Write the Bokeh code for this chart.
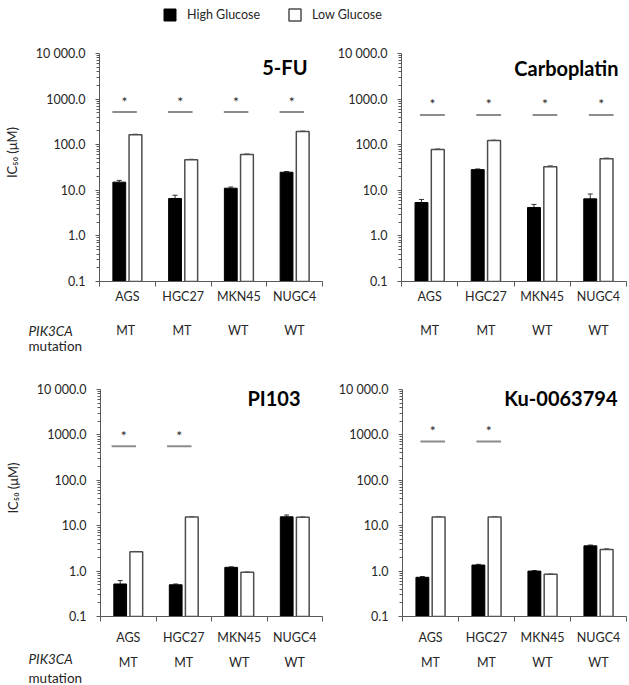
from bokeh.plotting import figure
from bokeh.models import (ColumnDataSource, Range1d, FixedTicker, Label,
                          Legend, LegendItem, Whisker, TeeHead)
from bokeh.layouts import column, row
from bokeh.embed import file_html
from bokeh.resources import INLINE
from bokeh.core.properties import value

# ---------------- data ----------------
cell_lines = ["AGS", "HGC27", "MKN45", "NUGC4"]
pik3ca_status = ["MT", "MT", "WT", "WT"]
series_names = ["High Glucose", "Low Glucose"]

drug_5fu = "5-FU"
high_5fu = [15.1, 6.6, 11.1, 24.9]
high_5fu_err = [1.4, 1.2, 0.7, 0.9]
low_5fu = [165, 46.5, 61, 195]
low_5fu_err = [5, 1.5, 2, 5]
sig_5fu = [True, True, True, True]

drug_carbo = "Carboplatin"
high_carbo = [5.4, 28.4, 4.2, 6.5]
high_carbo_err = [0.9, 1.0, 0.7, 1.8]
low_carbo = [78, 123, 33, 49]
low_carbo_err = [3, 3, 1.5, 2]
sig_carbo = [True, True, True, True]

drug_pi103 = "PI103"
high_pi103 = [0.52, 0.50, 1.21, 15.7]
high_pi103_err = [0.1, 0.02, 0.03, 1.5]
low_pi103 = [2.66, 15.5, 0.94, 15.3]
low_pi103_err = [0.05, 0.3, 0.02, 0.4]
sig_pi103 = [True, True, False, False]

drug_ku = "Ku-0063794"
high_ku = [0.73, 1.36, 1.0, 3.6]
high_ku_err = [0.03, 0.05, 0.03, 0.15]
low_ku = [15.5, 15.5, 0.85, 3.0]
low_ku_err = [0.3, 0.3, 0.02, 0.12]
sig_ku = [True, True, False, False]

y_major = [0.1, 1, 10, 100, 1000, 10000]
y_labels = ["0.1", "1.0", "10.0", "100.0", "1000.0", "10 000.0"]
y_title = "IC\u2085\u2080 (\u03bcM)"
mut_title = ["PIK3CA", "mutation"]

# ---------------- styles ----------------
FONT = "Lato"
TXT = "#262626"
AX = "#595959"
FRAME_H = 228
BAR_W = 0.23
OFF = 0.145
NCAT = len(cell_lines)
YLAB_PAD = "\u00a0" * 9   # lifts the rotated axis title a little above the frame centre

y_minor = [m * 10.0 ** e for e in range(-1, 4) for m in range(2, 10)]


def make_panel(drug, high, high_err, low, low_err, sig, sig_level, sig_shift,
               bl, fw, br, bt, bb, title_dx, title_dy, show_ylabel, lab_off):
    width = bl + fw + br
    height = bt + FRAME_H + bb
    p = figure(width=width, height=height, x_range=Range1d(0, NCAT),
               y_range=Range1d(0.1, 10000), y_axis_type="log",
               output_backend="svg", toolbar_location=None,
               min_border_left=bl, min_border_right=br,
               min_border_top=bt, min_border_bottom=bb)
    p.outline_line_color = None
    p.xgrid.visible = False
    p.ygrid.visible = False

    centers = [i + 0.5 for i in range(NCAT)]
    hx = [c - OFF for c in centers]
    lx = [c + OFF for c in centers]
    src_h = ColumnDataSource(dict(x=hx, top=high, upper=[v + e for v, e in zip(high, high_err)]))
    src_l = ColumnDataSource(dict(x=lx, top=low, upper=[v + e for v, e in zip(low, low_err)]))
    p.vbar(x="x", top="top", bottom=0.1, width=BAR_W, source=src_h,
           fill_color="black", line_color="black", line_width=1)
    p.vbar(x="x", top="top", bottom=0.1, width=BAR_W, source=src_l,
           fill_color="white", line_color="#4d4d4d", line_width=1.5)
    for s, col in ((src_h, "#333333"), (src_l, "#666666")):
        p.add_layout(Whisker(source=s, base="x", upper="upper", lower="top",
                             dimension="height", line_color=col, line_width=1,
                             upper_head=TeeHead(size=5, line_color=col, line_width=1),
                             lower_head=None))

    # significance markers
    sx = [c + sig_shift for c, f in zip(centers, sig) if f]
    if sx:
        ssrc = ColumnDataSource(dict(x0=[x - 0.22 for x in sx], x1=[x + 0.22 for x in sx],
                                     x=sx, y=[sig_level] * len(sx), t=["*"] * len(sx)))
        p.segment(x0="x0", x1="x1", y0="y", y1="y", source=ssrc,
                  line_color="#8c8c8c", line_width=2)
        p.text(x="x", y="y", text="t", source=ssrc, text_align="center",
               text_baseline="middle", y_offset=-11, text_font=value(FONT),
               text_font_size="14px", text_color=TXT)

    # y axis
    ya = p.yaxis[0]
    ya.ticker = FixedTicker(ticks=y_major, minor_ticks=y_minor)
    ya.major_label_overrides = dict(zip(y_major, y_labels))
    ya.major_tick_out = 4
    ya.major_tick_in = 0
    ya.minor_tick_out = 3
    ya.minor_tick_in = 0
    ya.axis_line_color = AX
    ya.major_tick_line_color = AX
    ya.minor_tick_line_color = AX
    ya.major_label_standoff = 10
    ya.major_label_text_font = FONT
    ya.major_label_text_font_size = "12.5px"
    ya.major_label_text_color = TXT
    if show_ylabel:
        ya.axis_label = YLAB_PAD + y_title
        ya.axis_label_standoff = 13
        ya.axis_label_text_font = FONT
        ya.axis_label_text_font_style = "normal"
        ya.axis_label_text_font_size = "13px"
        ya.axis_label_text_color = TXT

    # x axis: labels at centers, tick marks at category boundaries
    xa = p.xaxis[0]
    xa.ticker = FixedTicker(ticks=centers, minor_ticks=list(range(NCAT + 1)))
    xa.major_label_overrides = dict(zip(centers, cell_lines))
    xa.major_tick_line_color = None
    xa.major_tick_out = 0
    xa.major_tick_in = 0
    xa.minor_tick_out = 5
    xa.minor_tick_in = 0
    xa.minor_tick_line_color = AX
    xa.axis_line_color = AX
    xa.major_label_standoff = lab_off
    xa.major_label_text_font = FONT
    xa.major_label_text_font_size = "12.5px"
    xa.major_label_text_color = TXT

    # panel title (inside the frame, top right)
    p.add_layout(Label(x=fw - title_dx, y=FRAME_H - title_dy,
                       x_units="screen", y_units="screen", text=drug,
                       text_font=FONT, text_font_style="bold", text_font_size="20px",
                       text_color="black", text_align="right", text_baseline="middle"))
    return p


def make_strip(bl, fw, br, h, mt_from_top, pik_from_top, mut_from_top, show_names):
    """Row under a panel with the PIK3CA status; x mapping identical to the panel above."""
    width = bl + fw + br
    ppu = fw / NCAT
    s = figure(width=width, height=h,
               x_range=Range1d(-bl / ppu, NCAT + br / ppu), y_range=Range1d(0, h),
               output_backend="svg", toolbar_location=None,
               x_axis_location=None, y_axis_location=None,
               min_border_left=0, min_border_right=0, min_border_top=0, min_border_bottom=0)
    s.outline_line_color = None
    s.xgrid.visible = False
    s.ygrid.visible = False
    centers = [i + 0.5 for i in range(NCAT)]
    s.text(x=centers, y=[h - mt_from_top] * NCAT, text=pik3ca_status,
           text_align="center", text_baseline="middle", text_font=value(FONT),
           text_font_size="12.5px", text_color=TXT)
    if show_names:
        lx = (28 - bl) / ppu
        s.text(x=[lx], y=[h - pik_from_top], text=[mut_title[0]], text_align="left",
               text_baseline="middle", text_font=value(FONT), text_font_style="italic",
               text_font_size="13.5px", text_color=TXT)
        s.text(x=[lx], y=[h - mut_from_top], text=[mut_title[1]], text_align="left",
               text_baseline="middle", text_font=value(FONT),
               text_font_size="13.5px", text_color=TXT)
    return s


# legend strip
lg = figure(width=629, height=30, x_range=Range1d(0, 1), y_range=Range1d(0, 1),
            output_backend="svg", toolbar_location=None,
            x_axis_location=None, y_axis_location=None,
            min_border_left=0, min_border_right=0, min_border_top=0, min_border_bottom=0)
lg.outline_line_color = None
lg.xgrid.visible = False
lg.ygrid.visible = False
hidden = dict(x=[-5], top=[-5])
r_hi = lg.vbar(x="x", top="top", width=0.1, source=ColumnDataSource(hidden),
               fill_color="black", line_color="black")
r_lo = lg.vbar(x="x", top="top", width=0.1, source=ColumnDataSource(hidden),
               fill_color="white", line_color="#4d4d4d", line_width=1.5)
legend = Legend(items=[LegendItem(label=series_names[0], renderers=[r_hi]),
                       LegendItem(label=series_names[1], renderers=[r_lo])],
                location=(162, 8), orientation="horizontal",
                glyph_width=15, glyph_height=15, label_standoff=10, spacing=27,
                padding=0, margin=0, border_line_color=None, background_fill_alpha=0,
                label_text_font=FONT, label_text_font_size="12.5px",
                label_text_color=TXT, label_height=15)
lg.add_layout(legend)

# geometry: (border_left, frame_width, border_right)
g1, g2 = (97, 225, 12), (67, 225, 3)
g3, g4 = (100, 222, 12), (68, 224, 3)

p1 = make_panel(drug_5fu, high_5fu, high_5fu_err, low_5fu, low_5fu_err, sig_5fu, 520, -0.05,
                *g1, 23, 26, 17, 13, True, 2)
p2 = make_panel(drug_carbo, high_carbo, high_carbo_err, low_carbo, low_carbo_err, sig_carbo, 450, 0.05,
                *g2, 23, 26, 8, 14, False, 2)
p3 = make_panel(drug_pi103, high_pi103, high_pi103_err, low_pi103, low_pi103_err, sig_pi103, 560, -0.08,
                *g3, 32, 30, 22, 9, True, 8)
p4 = make_panel(drug_ku, high_ku, high_ku_err, low_ku, low_ku_err, sig_ku, 720, 0.04,
                *g4, 32, 30, 9, 9, False, 8)

s1 = make_strip(*g1, 50, 23, 23, 38, True)
s2 = make_strip(*g2, 50, 23, 23, 38, False)
s3 = make_strip(*g3, 38, 15, 11, 30, True)
s4 = make_strip(*g4, 38, 15, 11, 30, False)

layout = column(lg, row(p1, p2), row(s1, s2), row(p3, p4), row(s3, s4), spacing=0)
open("out.html", "w").write(file_html(layout, INLINE))
